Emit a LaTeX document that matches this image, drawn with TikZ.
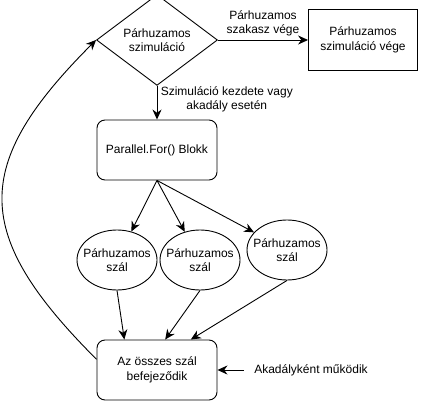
\documentclass[tikz,border=0pt]{standalone}
\usepackage{fontspec}
\setmainfont{Liberation Sans}
\usetikzlibrary{shapes.geometric,arrows.meta}

\begin{document}
\begin{tikzpicture}[x=1pt, y=-1pt, line width=0.9pt,
                    every node/.style={font=\fontsize{12pt}{14.5pt}\selectfont, align=center},
                    decision/.style={draw, diamond, minimum width=121pt, minimum height=78pt, inner sep=0pt},
                    block/.style={draw, rectangle, rounded corners=8pt, minimum width=120pt, minimum height=60pt},
                    endbox/.style={draw, rectangle, minimum width=109pt, minimum height=61pt},
                    thread/.style={draw, ellipse, minimum width=80pt, minimum height=60pt, inner sep=0pt},
                    flow/.style={-{Stealth[length=10pt, width=9pt]}}]
                    \useasboundingbox (0,0) rectangle (428,401);

                    \node[decision] (sim) at (157,40) {Párhuzamos\\szimuláció};
                    \node[endbox] (end) at (363,40) {Párhuzamos\\szimuláció vége};
                    \node[block] (par) at (157,150) {Parallel.For() Blokk};

                    \node[thread, label={center:Párhuzamos\\szál}] (e1) at (117,260) {};
                    \node[thread, label={center:Párhuzamos\\szál}] (e2) at (200,260) {};
                    \node[thread, label={center:Párhuzamos\\szál}] (e3) at (287,250) {};

                    \node[block] (fin) at (157,370) {Az összes szál\\befejeződik};
                    \node[inner xsep=10pt] (akad) at (311,370) {Akadályként működik};

                    \draw[flow] (sim) -- node[above] {Párhuzamos\\szakasz vége} (end);
                    \draw[flow] (sim) -- node[right, pos=0.4] {Szimuláció kezdete vagy\\akadály esetén} (par);

                    \draw[flow] (par.south) -- (e1);
                    \draw[flow] (par.south) -- (e2);
                    \draw[flow] (par.south) -- (e3);

                    \draw[flow] (e1.south) -- (fin.137);
                    \draw[flow] (e2.south) -- (fin.75);
                    \draw[flow] (e3.south) -- (fin.42);

                    \draw[flow] (akad) -- (fin);

                    \draw[flow] (fin.170) to[out=135, in=225, looseness=1.42] (sim.west);
                \end{tikzpicture}
\end{document}
